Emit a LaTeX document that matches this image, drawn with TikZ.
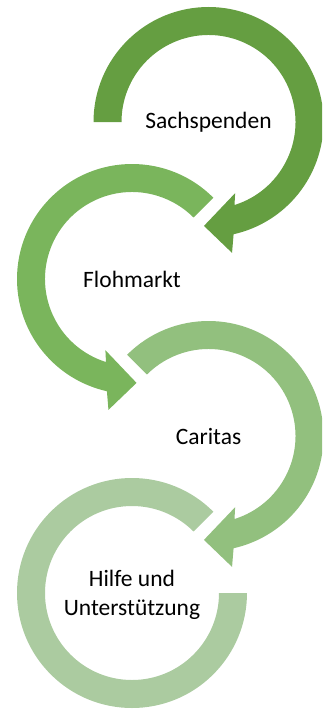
\documentclass[tikz,border=0pt]{standalone}
\usepackage{fontspec}
\setmainfont{Carlito}
\definecolor{gA}{RGB}{101,158,65}
\definecolor{gB}{RGB}{122,181,92}
\definecolor{gC}{RGB}{146,192,126}
\definecolor{gD}{RGB}{171,203,160}
\newcommand\arrowring[1]{(#1:115) arc[start angle=#1, end angle=-77.4, radius=115] -- (-79.8:133) -- (-92.5:104) -- (-69.5:76) -- (-72.6:87) arc[start angle=-72.6, end angle=#1, radius=87] -- cycle}
\begin{document}
\begin{tikzpicture}[x=1pt,y=1pt,
  lbl/.style={align=center, text=black, font=\fontsize{23.5}{28.5}\selectfont, inner sep=0pt}]
\useasboundingbox (0,0) rectangle (322,-709);
\clip (0,0) rectangle (322,-709);
% circle 4
\begin{scope}[shift={(132,-593)}]
  \fill[gD] (45:115) arc[start angle=45, end angle=360, radius=115] -- (0:87) arc[start angle=360, end angle=45, radius=87] -- cycle;
\end{scope}
% circle 3
\begin{scope}[shift={(208.5,-436)}]
  \fill[gC] \arrowring{135};
\end{scope}
% circle 2
\begin{scope}[shift={(132,-279)}, xscale=-1]
  \fill[gB] \arrowring{135};
\end{scope}
% circle 1
\begin{scope}[shift={(208.5,-122)}]
  \fill[gA] \arrowring{180};
\end{scope}
\node[lbl] (t1) at (208.5,-122) {Sachspenden};
\node[lbl] (t2) at (132,-279) {Flohmarkt};
\node[lbl] (t3) at (208.5,-436) {Caritas};
\node[lbl] (t4) at (132,-595) {Hilfe und\\Unterstützung};
\end{tikzpicture}
\end{document}
